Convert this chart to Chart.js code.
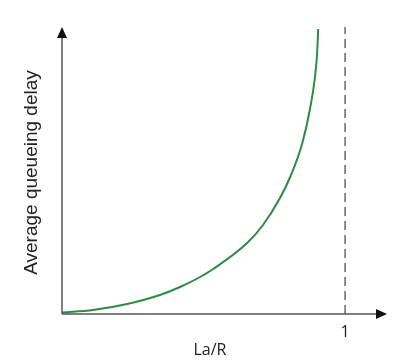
<!DOCTYPE html>
<html>
<head>
<meta charset="utf-8">
<script src="https://cdn.jsdelivr.net/npm/chart.js@4"></script>
<style>
html,body{margin:0;padding:0;background:#fff;}
#wrap{width:410px;height:364px;}
</style>
</head>
<body>
<div id="wrap"><canvas id="c" width="410" height="364"></canvas></div>
<script>
// Utilisation La/R (x) and average queueing delay (arbitrary units, y)
const loadValues  = [0.000, 0.110, 0.230, 0.346, 0.417, 0.488, 0.534, 0.654, 0.710, 0.770, 0.806, 0.848, 0.876, 0.894, 0.901, 0.905];
const delayValues = [1.5, 4, 10, 19, 27, 37, 45, 71, 89, 116, 137, 170, 205, 238, 260, 285];
const capacityLine = [1, 1];
const capacityLineY = [0, 287];
const xTickLabels = ['1'];
const xTickValues = [1];
const xTitle = 'La/R';
const yTitle = 'Average queueing delay';

const curve = loadValues.map((x, i) => ({x, y: delayValues[i]}));
const dashed = capacityLine.map((x, i) => ({x, y: capacityLineY[i]}));

const axesPlugin = {
  id: 'axesPlugin',
  afterDraw(chart) {
    const ctx = chart.ctx;
    const xs = chart.scales.x, ys = chart.scales.y;
    const x0 = xs.getPixelForValue(0);
    const y0 = ys.getPixelForValue(0);
    const xEnd = xs.right, yTop = ys.top;
    ctx.save();
    ctx.strokeStyle = '#555';
    ctx.lineWidth = 1.5;
    ctx.beginPath();
    ctx.moveTo(x0, y0); ctx.lineTo(xEnd - 6, y0);
    ctx.moveTo(x0, y0); ctx.lineTo(x0, yTop + 6);
    ctx.stroke();
    ctx.fillStyle = '#111';
    ctx.beginPath();
    ctx.moveTo(xEnd, y0); ctx.lineTo(xEnd - 11, y0 - 5); ctx.lineTo(xEnd - 11, y0 + 5); ctx.closePath();
    ctx.fill();
    ctx.beginPath();
    ctx.moveTo(x0, yTop); ctx.lineTo(x0 - 5, yTop + 11); ctx.lineTo(x0 + 5, yTop + 11); ctx.closePath();
    ctx.fill();
    ctx.fillStyle = '#222';
    ctx.font = '16px "Open Sans", sans-serif';
    ctx.textAlign = 'center';
    ctx.textBaseline = 'middle';
    xTickValues.forEach((v, i) => {
      const px = xs.getPixelForValue(v);
      ctx.fillText(xTickLabels[i], px, y0 + 18);
    });
    ctx.fillText(xTitle, 210, y0 + 36);
    ctx.translate(32, (ys.top + ys.bottom) / 2 + 2);
    ctx.rotate(-Math.PI / 2);
    ctx.font = '19px "Liberation Sans", Arial, sans-serif';
    ctx.fillText(yTitle, 0, 0);
    ctx.restore();
  }
};

new Chart(document.getElementById('c'), {
  type: 'line',
  data: {
    datasets: [
      {
        data: curve,
        borderColor: '#2e8b45',
        borderWidth: 2,
        pointRadius: 0,
        fill: false,
        cubicInterpolationMode: 'monotone'
      },
      {
        data: dashed,
        borderColor: '#666',
        borderWidth: 1.5,
        borderDash: [9, 5],
        pointRadius: 0,
        fill: false
      }
    ]
  },
  options: {
    responsive: false,
    animation: false,
    layout: { padding: { left: 62, right: 23, top: 27, bottom: 50 } },
    plugins: { legend: { display: false }, tooltip: { enabled: false } },
    scales: {
      x: { type: 'linear', min: 0, max: 1.148, display: false },
      y: { type: 'linear', min: 0, max: 287, display: false }
    }
  },
  plugins: [axesPlugin]
});
</script>
</body>
</html>
